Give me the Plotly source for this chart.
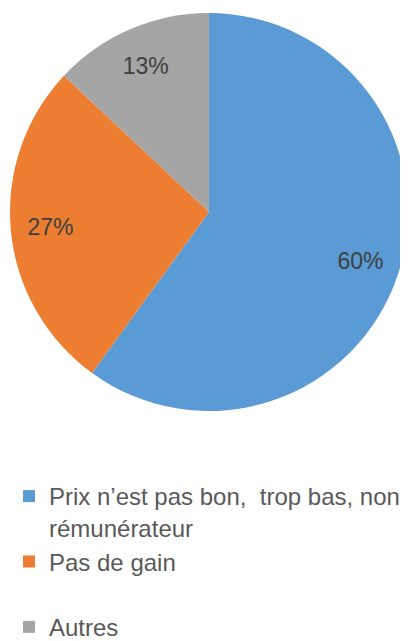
import plotly.graph_objects as go

categories = ["Prix n’est pas bon,  trop bas, non<br>rémunérateur", "Pas de gain<br> ", "Autres"]
values = [60, 27, 13]
colors = ["#5B9BD5", "#ED7D31", "#A5A5A5"]

W, H = 400, 633
dom = dict(x=[2/W, 1.0], y=[1 - 404/H, 1 - 4/H])
font_family = "Liberation Sans, Arial, sans-serif"

fig = go.Figure()
# Filled pie (colours + legend)
fig.add_trace(go.Pie(
    labels=categories,
    values=values,
    sort=False,
    direction="clockwise",
    rotation=0,
    marker=dict(colors=colors, line=dict(width=0)),
    textinfo="none",
    domain=dom,
    hoverinfo="label+percent",
))
# Transparent ring carrying the percentage labels near the rim
fig.add_trace(go.Pie(
    labels=categories,
    values=values,
    sort=False,
    direction="clockwise",
    rotation=0,
    hole=0.6,
    marker=dict(colors=["rgba(0,0,0,0)"] * 3, line=dict(width=0)),
    texttemplate="%{percent:.0%}",
    textposition="inside",
    insidetextorientation="horizontal",
    textfont=dict(family=font_family, size=23, color="#404040"),
    domain=dom,
    showlegend=False,
    hoverinfo="skip",
))

fig.update_layout(
    width=W, height=H,
    margin=dict(l=0, r=0, t=0, b=0, autoexpand=False),
    paper_bgcolor="white",
    plot_bgcolor="white",
    showlegend=True,
    legend=dict(
        x=1/W, xanchor="left",
        y=1 - 466/H, yanchor="top",
        font=dict(family=font_family, size=24, color="#595959"),
        valign="top",
        traceorder="normal",
        bgcolor="rgba(0,0,0,0)",
    ),
)

fig.write_html("out.html")
